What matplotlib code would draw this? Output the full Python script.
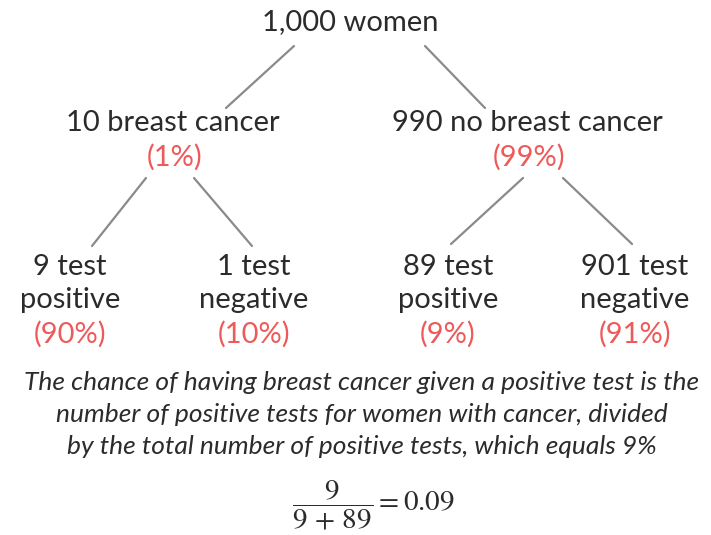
import matplotlib
matplotlib.use("Agg")
import matplotlib.pyplot as plt

plt.rcParams["mathtext.fontset"] = "stix"

# tree content
root_label = "1,000 women"
level1_labels = ["10 breast cancer", "990 no breast cancer"]
level1_pcts = ["(1%)", "(99%)"]
level2_counts = ["9 test", "1 test", "89 test", "901 test"]
level2_results = ["positive", "negative", "positive", "negative"]
level2_pcts = ["(90%)", "(10%)", "(9%)", "(91%)"]
note_lines = [
    "The chance of having breast cancer given a positive test is the",
    "number of positive tests for women with cancer, divided",
    "by the total number of positive tests, which equals 9%",
]
formula = r"$\dfrac{9}{9\,+\,89} = 0.09$"

# layout in pixels (y grows downward)
root_xy = (350, 22)
level1_x = [173, 527]
level1_y = 123
level2_x = [70, 254, 448, 635]
level2_y = 267
# connector segments: (x0, y0, x1, y1)
edges = [
    (294, 46, 226, 108), (425, 46, 485, 108),
    (146, 178, 92, 246), (194, 178, 252, 246),
    (523, 178, 451, 244), (563, 178, 632, 244),
]

text_col = "#2b2b2b"
red = "#ee5a5a"
line_col = "#8a8a8a"
font = "Lato"
fs = 21

fig = plt.figure(figsize=(7.11, 5.35), dpi=100)
ax = fig.add_axes([0, 0, 1, 1])
ax.set_xlim(0, 711)
ax.set_ylim(535, 0)
ax.axis("off")

for x0, y0, x1, y1 in edges:
    ax.plot([x0, x1], [y0, y1], color=line_col, lw=1.6, solid_capstyle="round")

ax.text(*root_xy, root_label, ha="center", va="center", fontsize=fs,
        family=font, color=text_col)

for x, lab, pct in zip(level1_x, level1_labels, level1_pcts):
    ax.text(x, level1_y, lab, ha="center", va="center", fontsize=fs,
            family=font, color=text_col)
    ax.text(x + 2, level1_y + 34, pct, ha="center", va="center", fontsize=fs,
            family=font, color=red)

for x, cnt, res, pct in zip(level2_x, level2_counts, level2_results, level2_pcts):
    ax.text(x, level2_y, cnt, ha="center", va="center", fontsize=fs,
            family=font, color=text_col)
    ax.text(x, level2_y + 33, res, ha="center", va="center", fontsize=fs,
            family=font, color=text_col)
    ax.text(x, level2_y + 67, pct, ha="center", va="center", fontsize=fs,
            family=font, color=red)

for i, line in enumerate(note_lines):
    ax.text(362, 383 + i * 31.5, line, ha="center", va="center", fontsize=19,
            family=font, style="italic", color=text_col)

ax.text(373, 505, formula, ha="center", va="center", fontsize=21, color=text_col)

fig.savefig("out.png", dpi=100)
